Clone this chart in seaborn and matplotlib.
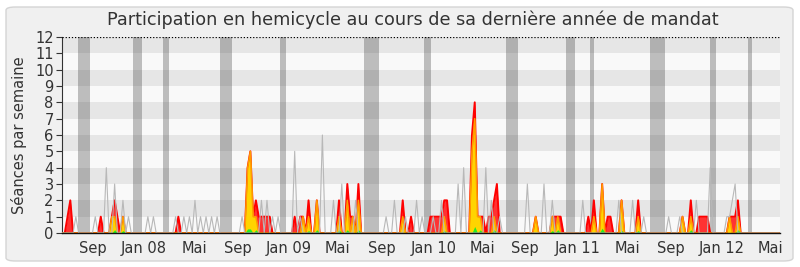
import numpy as np
import pandas as pd
import matplotlib
matplotlib.use("Agg")
import matplotlib.pyplot as plt
import seaborn as sns
from matplotlib.patches import FancyBboxPatch

# ---------------- data (weekly values, week 0 = early June 2007) ----------------
N_WEEKS = 260

# red: présence en hémicycle (séances par semaine)
presence_weeks = [2, 3, 14, 18, 19, 20, 22, 42, 67, 68, 69, 70, 71, 72, 73, 74, 75,
                  84, 86, 87, 89, 92, 100, 103, 104, 105, 107, 123, 126,
                  133, 134, 135, 136, 137, 138, 139, 148, 149, 150, 151, 152,
                  154, 155, 156, 157, 171, 177, 178, 179, 180, 190, 192, 195,
                  197, 198, 202, 208, 224, 227, 230, 231, 232, 233, 241, 242, 243, 244]
presence_vals = [1, 2, 1, 1, 2, 1, 1, 1, 4, 5, 1, 2, 1, 1, 1, 1, 1,
                 1, 1, 1, 2, 2, 2, 3, 1, 1, 3, 2, 1,
                 1, 1, 1, 1, 1, 2, 2, 6, 8, 1, 1, 1,
                 1, 1, 2, 3, 1, 1, 1, 1, 1, 1, 2, 3,
                 1, 1, 2, 2, 1, 2, 1, 1, 1, 1, 1, 1, 1, 2]

# yellow: participation (interventions)
particip_weeks = [18, 19, 22, 67, 68, 69, 70, 87, 89, 92, 100, 103, 105, 107, 123, 138,
                  148, 149, 150, 151, 156, 171, 177, 179, 192, 195, 202, 208, 224, 227, 241, 244]
particip_vals = [1, 1, 1, 4, 5, 1, 1, 1, 1, 2, 1, 2, 1, 2, 1, 1,
                 5, 7, 1, 1, 1, 1, 1, 1, 1, 3, 2, 1, 1, 1, 1, 1]

# green: questions
question_weeks = [19, 22, 67, 68, 70, 89, 92, 100, 103, 107, 138, 149, 151, 156,
                  177, 179, 195, 202, 208, 227, 244]
question_vals = [0.2, 0.15, 0.25, 0.25, 0.2, 0.15, 0.2, 0.2, 0.2, 0.2, 0.15, 0.4, 0.2, 0.2,
                 0.15, 0.2, 0.3, 0.15, 0.15, 0.2, 0.2]

# grey line: médiane des députés
median_weeks = [5, 12, 16, 19, 22, 24, 31, 33, 41, 44, 46, 48, 50, 52, 54, 56, 65,
                72, 74, 76, 78, 84, 86, 94, 98, 101, 106, 117, 120, 124, 128, 130,
                134, 137, 143, 145, 153, 155, 158, 168, 174, 177, 188, 201, 206, 210,
                219, 223, 229, 234, 240, 241, 242, 243]
median_vals = [1, 1, 4, 3, 2, 1, 1, 1, 1, 1, 1, 2, 1, 1, 1, 1, 1,
               2, 2, 1, 1, 5, 1, 6, 2, 3, 2, 1, 2, 1, 2, 1,
               1, 2, 3, 4, 4, 2, 1, 3, 3, 2, 2, 2, 2, 1,
               1, 1, 2, 4, 1, 1, 2, 3]

# vacances parlementaires (start / end, in weeks)
vac_start = [5.8, 25.6, 36.5, 57.0, 78.7, 109.0, 130.7, 160.3, 182.0, 190.6, 212.3, 233.9, 247.6]
vac_end = [10.1, 28.9, 38.6, 61.5, 80.9, 114.4, 133.2, 164.6, 185.2, 192.1, 217.7, 236.1, 249.1]

tick_labels = ["Sep", "Jan 08", "Mai", "Sep", "Jan 09", "Mai", "Sep", "Jan 10", "Mai",
               "Sep", "Jan 11", "Mai", "Sep", "Jan 12", "Mai"]
tick_weeks = [11.2, 29.4, 47.8, 63.4, 82.0, 99.6, 115.4, 134.0, 151.9,
              167.0, 186.2, 204.0, 219.8, 238.3, 255.7]


def expand(ws, vs):
    arr = np.zeros(N_WEEKS)
    arr[np.array(ws)] = vs
    return arr


weeks = np.arange(N_WEEKS)
df = pd.DataFrame({
    "week": weeks,
    "presence": expand(presence_weeks, presence_vals),
    "participation": expand(particip_weeks, particip_vals),
    "questions": expand(question_weeks, question_vals),
    "mediane": expand(median_weeks, median_vals),
})

# ---------------- figure ----------------
sns.set_style("white")
plt.rcParams["font.family"] = ["DejaVu Sans"]

W, H = 800, 267
fig = plt.figure(figsize=(8, 2.67), dpi=100, facecolor="white")
fig.patches.append(FancyBboxPatch((6 / W, 6 / H), (793 - 6) / W, (260 - 6) / H,
                                  boxstyle="round,pad=0,rounding_size=0.012",
                                  transform=fig.transFigure, facecolor="#f0f0f0",
                                  edgecolor="#d4d4d4", linewidth=1.0, zorder=-10))

ax = fig.add_axes([62 / W, 1 - 233 / H, (780 - 62) / W, (233 - 37) / H])
ax.set_facecolor("#f9f9f9")

# horizontal alternating bands
for lo in range(1, 12, 2):
    ax.axhspan(lo, lo + 1, color="#e6e6e6", zorder=0, lw=0)

# vacation bands
for s, e in zip(vac_start, vac_end):
    ax.axvspan(s, e, color="#4a4a4a", alpha=0.34, lw=0, zorder=1)

# red area (présence)
ax.fill_between(df["week"], df["presence"], color="#ff3333", lw=0, zorder=3)
sns.lineplot(data=df, x="week", y="presence", ax=ax, color="#ff0000", lw=1.4, zorder=3.1)
# yellow area (participation)
ax.fill_between(df["week"], df["participation"], color="#ffd400", lw=0, zorder=4)
sns.lineplot(data=df, x="week", y="participation", ax=ax, color="#ff9a00", lw=1.1, zorder=4.1)
# green area (questions)
ax.fill_between(df["week"], df["questions"], color="#22ee22", lw=0, zorder=5)
# median line
sns.lineplot(data=df, x="week", y="mediane", ax=ax, color="#b8b8b8", lw=0.8, zorder=6)

ax.axhline(12, color="black", ls=(0, (1, 1.5)), lw=0.9, zorder=7)

ax.set_xlim(0, 259.2)
ax.set_ylim(0, 12)
ax.set_yticks(range(0, 13))
ax.set_yticklabels([str(v) for v in range(0, 13)])
ax.set_xticks(tick_weeks)
ax.set_xticklabels(tick_labels)
ax.tick_params(axis="y", length=4, width=0.8, color="#333333", labelsize=10.5,
               labelcolor="#333333", pad=2, direction="out", left=True)
ax.tick_params(axis="x", length=0, labelsize=10.5, labelcolor="#333333", pad=6)
ax.set_xlabel("")
ax.set_ylabel("Séances par semaine", fontsize=10.5, color="#333333", labelpad=6)

for side in ("top", "right"):
    ax.spines[side].set_visible(False)
ax.spines["left"].set_color("#333333")
ax.spines["bottom"].set_color("#111111")
ax.spines["left"].set_linewidth(0.8)
ax.spines["bottom"].set_linewidth(1.0)
ax.spines["bottom"].set_zorder(8)

fig.text(413 / W, 1 - 20 / H, "Participation en hemicycle au cours de sa dernière année de mandat",
         ha="center", va="center", fontsize=12.7, color="#333333")

fig.savefig("out.png", dpi=100, facecolor=fig.get_facecolor())
